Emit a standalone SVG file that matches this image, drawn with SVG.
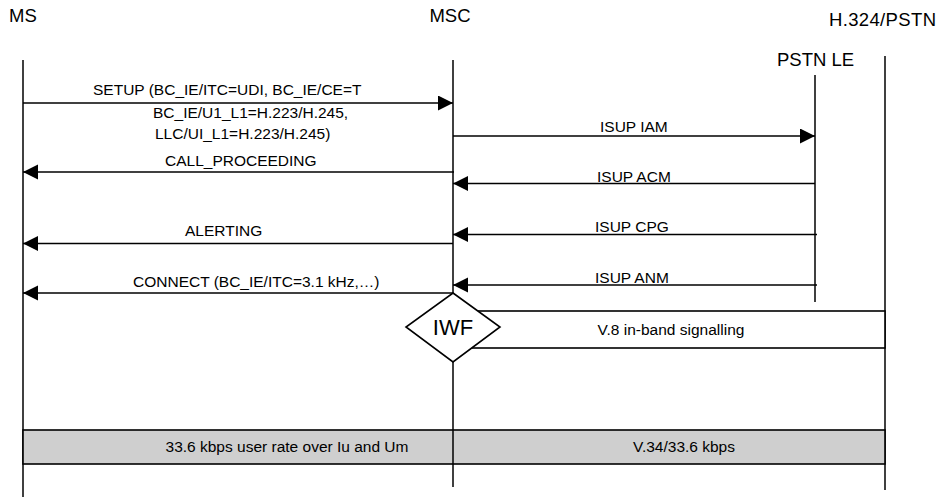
<svg xmlns="http://www.w3.org/2000/svg" width="940" height="497" viewBox="0 0 940 497">
  <style>
    .title { font-family: "Liberation Sans", Arial, sans-serif; font-size: 18.5px; fill: #000; }
    .msg { font-family: "Liberation Sans", Arial, sans-serif; font-size: 15.5px; fill: #000; }
    .life { stroke: #000; stroke-width: 1.5; fill: none; }
    .arrow { stroke: #000; stroke-width: 1.7; fill: none; marker-end: url(#ah); }
    .box { stroke: #000; stroke-width: 1.6; }
  </style>
  <defs>
    <marker id="ah" markerUnits="userSpaceOnUse" markerWidth="16" markerHeight="16" refX="15" refY="7.5" orient="auto">
      <path d="M0,0 L15,7.5 L0,15 Z" fill="#000"/>
    </marker>
  </defs>
  <rect width="940" height="497" fill="#fff"/>

  <g id="ms">
    <text class="title" x="9" y="22">MS</text>
    <line class="life" x1="23" y1="60" x2="23" y2="497"/>
  </g>
  <g id="msc">
    <text class="title" x="450" y="22" text-anchor="middle">MSC</text>
    <line class="life" x1="453" y1="60" x2="453" y2="487"/>
  </g>
  <g id="pstn-le">
    <text class="title" x="777" y="66">PSTN LE</text>
    <line class="life" x1="815" y1="75" x2="815" y2="302"/>
  </g>
  <g id="h324-pstn">
    <text class="title" x="829" y="26" textLength="107">H.324/PSTN</text>
    <line class="life" x1="885" y1="56" x2="885" y2="490"/>
  </g>

  <g id="connectors">
    <line class="arrow" x1="23" y1="103" x2="453" y2="103"/>
    <line class="arrow" x1="453" y1="136" x2="815" y2="136"/>
    <line class="arrow" x1="454" y1="172" x2="23" y2="172"/>
    <line class="arrow" x1="815" y1="183.5" x2="453" y2="183.5"/>
    <line class="arrow" x1="817" y1="234.5" x2="453" y2="234.5"/>
    <line class="arrow" x1="453" y1="243.5" x2="23" y2="243.5"/>
    <line class="arrow" x1="817" y1="285" x2="453" y2="285"/>
    <line class="arrow" x1="453" y1="293" x2="23" y2="293"/>
  </g>

  <g id="labels">
    <text class="msg" x="93" y="95">SETUP (BC_IE/ITC=UDI, BC_IE/CE=T</text>
    <text class="msg" x="153" y="118">BC_IE/U1_L1=H.223/H.245,</text>
    <text class="msg" x="155" y="139">LLC/UI_L1=H.223/H.245)</text>
    <text class="msg" x="600" y="132">ISUP IAM</text>
    <text class="msg" x="165" y="166">CALL_PROCEEDING</text>
    <text class="msg" x="597" y="181.5">ISUP ACM</text>
    <text class="msg" x="595" y="231.5">ISUP CPG</text>
    <text class="msg" x="185" y="236">ALERTING</text>
    <text class="msg" x="595" y="282.5">ISUP ANM</text>
    <text class="msg" x="133" y="286.5">CONNECT (BC_IE/ITC=3.1 kHz,…)</text>
  </g>

  <g id="v8-signalling">
    <rect class="box" x="460" y="311" width="425" height="37" fill="#fff"/>
    <text class="msg" x="671" y="335" text-anchor="middle">V.8 in-band signalling</text>
  </g>

  <g id="iwf">
    <polygon class="box" points="453,293 500,327 453,362 406,327" fill="#fff"/>
    <text x="453" y="335" text-anchor="middle" style="font-family: 'Liberation Sans', Arial, sans-serif; font-size: 22px;">IWF</text>
  </g>

  <g id="user-rate-band">
    <rect class="box" x="23" y="430" width="862" height="34" fill="#cfcfcf"/>
    <line class="life" x1="453" y1="430" x2="453" y2="464"/>
    <text class="msg" x="287" y="452" text-anchor="middle">33.6 kbps user rate over Iu and Um</text>
    <text class="msg" x="684" y="452" text-anchor="middle">V.34/33.6 kbps</text>
  </g>
</svg>
